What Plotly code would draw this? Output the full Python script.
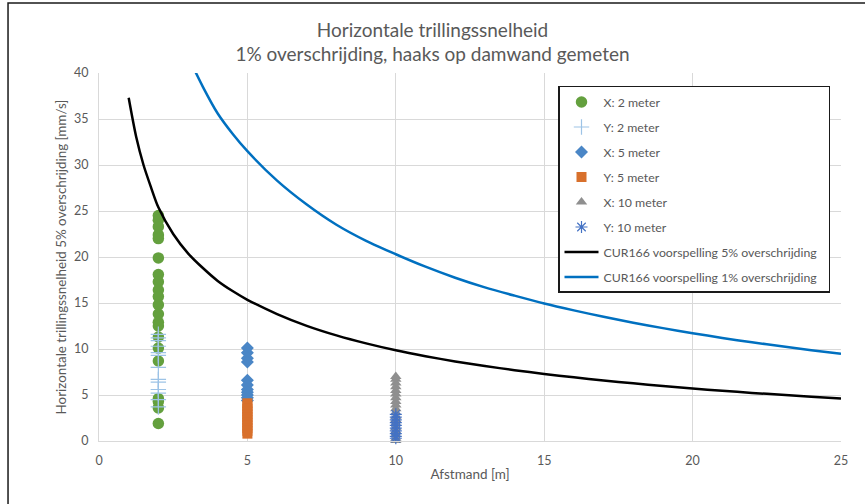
import plotly.graph_objects as go

# ---------------- data ----------------
x2_vals = [24.5, 24.0, 23.3, 22.4, 22.0, 19.9, 18.1, 17.3, 16.4, 15.7, 14.8,
           13.8, 12.9, 12.5, 11.3, 10.1, 8.7, 4.6, 4.3, 3.6, 1.9]
y2_vals = [11.6, 11.2, 10.9, 10.3, 9.6, 9.3, 8.0, 6.7, 6.4, 5.6, 5.2, 4.5, 3.7]
x5_vals = [10.1, 9.6, 9.0, 8.6, 6.6, 6.1, 5.6, 5.3, 5.0, 4.7, 4.4]
y5_vals = [4.1, 3.8, 3.5, 3.2, 2.9, 2.6, 2.3, 2.0, 1.7, 1.4, 1.1, 0.8]
x10_vals = [7.0, 6.7, 6.3, 5.9, 5.5, 5.1, 4.7, 4.3, 3.9, 3.5, 3.1, 2.7, 2.3,
            1.9, 1.5, 1.1, 0.7, 0.3, 0.05]
y10_vals = [2.9, 2.6, 2.3, 2.0, 1.7, 1.4, 1.1, 0.8, 0.5, 0.3]

cur5_x = [1, 1.25, 1.5, 1.75, 2, 2.5, 3, 3.5, 4, 4.5, 5, 6, 7, 8, 9, 10, 11, 12,
          13, 14, 15, 16, 17, 18, 19, 20, 21, 22, 23, 24, 25]
cur5_y = [37.3, 33.1, 30.0, 27.6, 25.4, 22.5, 20.4, 18.8, 17.4, 16.3, 15.35, 13.8,
          12.52, 11.48, 10.61, 9.86, 9.22, 8.65, 8.15, 7.70, 7.29, 6.92, 6.58,
          6.27, 5.98, 5.71, 5.46, 5.23, 5.02, 4.81, 4.62]

cur1_x = [3, 3.5, 4, 4.5, 5, 6, 7, 8, 9, 10, 11, 12, 13, 14, 15, 16, 17, 18, 19,
          20, 21, 22, 23, 24, 25]
cur1_y = [41.8, 38.5, 35.6, 33.4, 31.5, 28.3, 25.7, 23.5, 21.75, 20.3, 18.95,
          17.75, 16.7, 15.8, 14.95, 14.2, 13.5, 12.85, 12.27, 11.72, 11.2, 10.73,
          10.3, 9.87, 9.48]

title_text = "Horizontale trillingssnelheid<br>1% overschrijding, haaks op damwand gemeten"
x_title = "Afstmand [m]"
y_title = "Horizontale trillingssnelheid 5% overschrijding [mm/s]"

FONT = "Lato"
GREY_TXT = "#595959"

fig = go.Figure()

def pts(name, d, vals, symbol, color, size, group, line=None):
    mk = dict(symbol=symbol, color=color, size=size)
    if line is not None:
        mk["line"] = line
    fig.add_trace(go.Scatter(
        x=[d] * len(vals), y=vals, mode="markers", name=name, marker=mk,
        cliponaxis=False, legendgroup=group))

pts("X: 2 meter", 2, x2_vals, "circle", "#64A03E", 11.5, "g1")
pts("Y: 2 meter", 2, y2_vals, "cross-thin-open", "#9DC3E6", 11, "g2",
    line=dict(color="#9DC3E6", width=1.2))
pts("X: 5 meter", 5, x5_vals, "diamond", "#4A86C6", 10, "g3")
pts("Y: 5 meter", 5, y5_vals, "square", "#D8702C", 10, "g4")
pts("X: 10 meter", 10, x10_vals, "triangle-up", "#8F8F8F", 10, "g5")
pts("Y: 10 meter", 10, y10_vals, "asterisk-open", "#4472C4", 10, "g6",
    line=dict(color="#4472C4", width=1.2))

fig.add_trace(go.Scatter(x=cur5_x, y=cur5_y, mode="lines",
                         name="CUR166 voorspelling 5% overschrijding\u00a0\u00a0",
                         line=dict(color="#000000", width=2.5, shape="spline",
                                   smoothing=0.8),
                         legendgroup="g7"))
fig.add_trace(go.Scatter(x=cur1_x, y=cur1_y, mode="lines",
                         name="CUR166 voorspelling 1% overschrijding\u00a0\u00a0",
                         line=dict(color="#0070C0", width=2.5, shape="spline",
                                   smoothing=0.8),
                         legendgroup="g8"))

axis_common = dict(
    showgrid=True, gridcolor="#D9D9D9", gridwidth=1,
    showline=True, linecolor="#D9D9D9", linewidth=1,
    zeroline=False, ticks="outside", tickcolor="rgba(0,0,0,0)",
    automargin=False,
    tickfont=dict(family=FONT, size=12.5, color=GREY_TXT),
)

fig.update_layout(
    width=865, height=504,
    paper_bgcolor="white", plot_bgcolor="white",
    margin=dict(l=99, r=24, t=73, b=63),
    font=dict(family=FONT, color=GREY_TXT),
    title=dict(text=title_text, x=0.5, xanchor="center", xref="container",
               y=0.927, yanchor="top", yref="container",
               font=dict(family=FONT, size=19, color=GREY_TXT)),
    xaxis=dict(range=[0, 25], dtick=5, tick0=0, ticklen=8,
               title=dict(text=x_title, font=dict(family=FONT, size=13.5, color=GREY_TXT),
                          standoff=2),
               **axis_common),
    yaxis=dict(range=[0, 40], dtick=5, tick0=0, ticklen=7,
               title=dict(text=y_title, font=dict(family=FONT, size=13.4, color=GREY_TXT),
                          standoff=4),
               **axis_common),
    legend=dict(x=0.6186, y=0.9647, xanchor="left", yanchor="top",
                bgcolor="white", bordercolor="#1A1A1A", borderwidth=1.5,
                font=dict(family=FONT, size=12.3, color=GREY_TXT),
                tracegroupgap=6, itemwidth=34),
    showlegend=True,
    shapes=[dict(type="rect", xref="paper", yref="paper",
                 x0=-0.1226, y0=-0.25, x1=1.2, y1=1.1902,
                 line=dict(color="#1A1A1A", width=1.5), layer="below")],
)

fig.write_html("out.html", config={"displayModeBar": False},
               post_script="document.body.style.margin='0';document.body.style.padding='0';")
